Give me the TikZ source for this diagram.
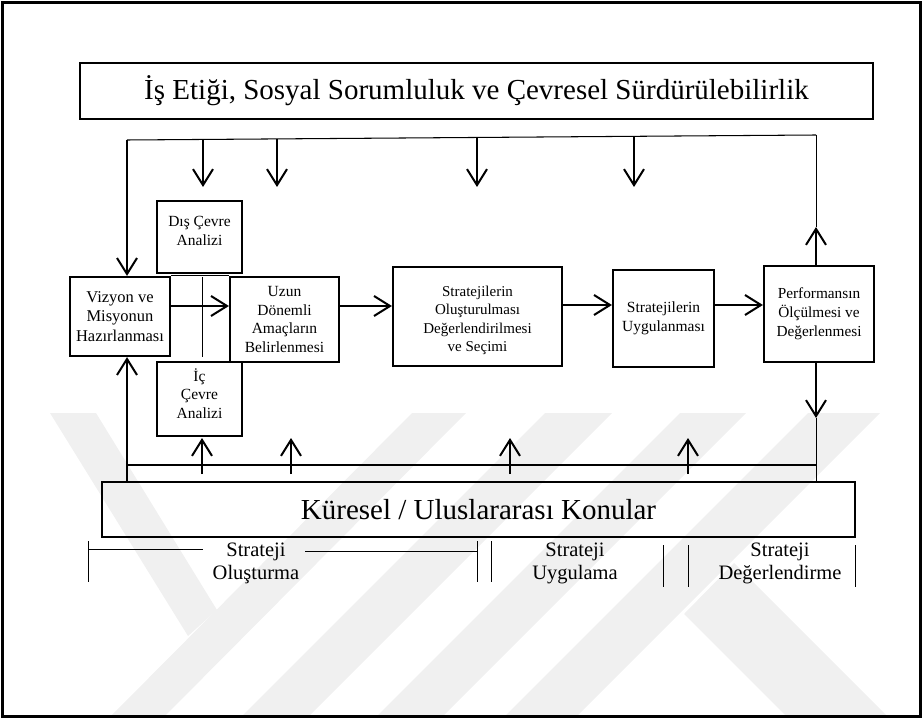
\documentclass[tikz,border=0pt]{standalone}
\usepackage{fontspec}
\setmainfont{Liberation Serif}
\usetikzlibrary{arrows.meta,calc}
\tikzset{
  box/.style={draw, line width=2.2pt, inner sep=0pt, align=center},
  arr/.style={line width=2pt, -{Straight Barb[length=16pt,width=20pt]}},
  thinl/.style={line width=1.05pt},
  hair/.style={line width=1pt},
  bt/.style={font=\fontsize{15.5}{18.6}\selectfont},
  txt/.style={align=center, inner sep=0pt},
  lab/.style={align=center, inner sep=0pt, font=\fontsize{20.5}{23}\selectfont},
  big/.style={font=\fontsize{29}{34}\selectfont},
  wm/.style={fill=black!6},
}
\begin{document}
\begin{tikzpicture}[x=1pt,y=-1pt]
\useasboundingbox (0,0) rectangle (923,719);

% faint watermark
\begin{scope}
\clip (4,413) rectangle (919,715);
\fill[wm] (50,413) -- (96,413) -- (217,610) -- (188,636) -- cycle;
\fill[wm] (412,413) -- (466,413) -- (164,717) -- (110,717) -- cycle;
\fill[wm] (545,413) -- (612,413) -- (308,717) -- (241,717) -- cycle;
\fill[wm] (680,413) -- (746,413) -- (442,717) -- (376,717) -- cycle;
\fill[wm] (808,413) -- (880,413) -- (576,717) -- (504,717) -- cycle;
\fill[wm] (734,563) -- (888,717) -- (787,717) -- (684,614) -- cycle;
\end{scope}

\draw[line width=2.5pt] (2.5,2.5) rectangle (920.5,716.5);

% main boxes
\node[box, big, minimum width=793pt, minimum height=56pt] (title) at (476.5,91) {İş Etiği, Sosyal Sorumluluk ve Çevresel Sürdürülebilirlik};
\node[box, minimum width=85pt, minimum height=72pt] (dis) at (199.5,237) {};
\node[txt, bt] (dist) at (199.5,231) {Dış Çevre\\Analizi};
\node[box, bt, minimum width=100pt, minimum height=79pt, font=\fontsize{16.5}{19.2}\selectfont] (viz) at (120,316.5) {Vizyon ve\\Misyonun\\Hazırlanması};
\node[box, bt, minimum width=109pt, minimum height=85pt] (uzun) at (284.5,319.5) {Uzun\\Dönemli\\Amaçların\\Belirlenmesi};
\node[box, minimum width=85pt, minimum height=74pt] (ic) at (199.5,399) {};
\node[txt, bt] (ict) at (199.5,393.5) {İç\\Çevre\\Analizi};
\node[box, minimum width=169pt, minimum height=99pt] (secim) at (477.5,316.5) {};
\node[txt, bt, font=\fontsize{15}{18.4}\selectfont] (secimt) at (477.5,320.5) {Stratejilerin\\Oluşturulması\\Değerlendirilmesi\\ve Seçimi};
\node[box, bt, minimum width=101pt, minimum height=97pt] (uyg) at (663.5,318.5) {Stratejilerin\\Uygulanması};
\node[box, bt, minimum width=110pt, minimum height=96pt, font=\fontsize{15.3}{18.8}\selectfont] (perf) at (819,314) {Performansın\\Ölçülmesi ve\\Değerlenmesi};
\node[box, big, minimum width=753pt, minimum height=55pt] (kur) at (478.5,509.5) {Küresel / Uluslararası Konular};

% top feedback loop
\coordinate (tl) at (127,140);
\coordinate (tr) at (816,135);
\coordinate (pu) at (816,227);
\draw[thinl] (tl) -- (tr);
\draw[hair] (pu) -- (tr);
\draw[arr] (perf.north -| pu) -- (pu);
\draw[arr] (tl) -- (tl |- viz.north);
\coordinate (d1) at (203,139.5);
\coordinate (d2) at (277,139);
\coordinate (d3) at (477,137.5);
\coordinate (d4) at (634,136.3);
\coordinate (dend) at (0,187);
\foreach \c in {d1,d2,d3,d4} \draw[arr] (\c) -- (\c |- dend);

% horizontal flow
\coordinate (ha) at (0,306);
\coordinate (hb) at (0,305);
\draw[hair] (viz.north east) -- (uzun.north west);
\coordinate (gt) at (202,277);
\coordinate (gb) at (202,357);
\draw[hair] (gt) -- (gb);
\draw[arr] (viz.east |- ha) -- (uzun.west |- ha);
\draw[arr] (uzun.east |- ha) -- (secim.west |- ha);
\draw[arr] (secim.east |- hb) -- (uyg.west |- hb);
\draw[arr] (uyg.east |- hb) -- (perf.west |- hb);

% bottom feedback loop
\coordinate (pd) at (816,418);
\coordinate (bl) at (127,465);
\coordinate (br) at (816,465);
\draw[arr] (perf.south -| pd) -- (pd);
\draw[hair] (pd) -- (pd |- kur.north);
\draw[thinl] (bl) -- (br);
\draw[arr] (kur.north -| bl) -- (bl |- viz.south);
\coordinate (uend) at (0,438);
\coordinate (u1) at (202,474);
\coordinate (u2) at (291,474);
\coordinate (u3) at (510,474);
\coordinate (u4) at (688,474);
\foreach \c in {u1,u2,u3,u4} \draw[arr] (\c) -- (\c |- uend);

% phase brackets
\coordinate (b1t) at (88,541);  \coordinate (b1b) at (88,582);
\coordinate (b2t) at (477,541); \coordinate (b2b) at (477,582);
\coordinate (b3t) at (491,541); \coordinate (b3b) at (491,582);
\coordinate (b4t) at (663,545); \coordinate (b4b) at (663,587);
\coordinate (b5t) at (688,545); \coordinate (b5b) at (688,587);
\coordinate (b6t) at (855,545); \coordinate (b6b) at (855,587);
\foreach \c in {b1,b2,b3,b4,b5,b6} \draw[hair] (\c t) -- (\c b);
\coordinate (h1a) at (88,549);  \coordinate (h1b) at (203,549);
\coordinate (h2a) at (305,551); \coordinate (h2b) at (477,551);
\draw[hair] (h1a) -- (h1b);
\draw[hair] (h2a) -- (h2b);
\node[lab] (l1) at (256,563.5) {Strateji\\Oluşturma};
\node[lab] (l2) at (575,563.5) {Strateji\\Uygulama};
\node[lab] (l3) at (780,563.5) {Strateji\\Değerlendirme};
\end{tikzpicture}
\end{document}
